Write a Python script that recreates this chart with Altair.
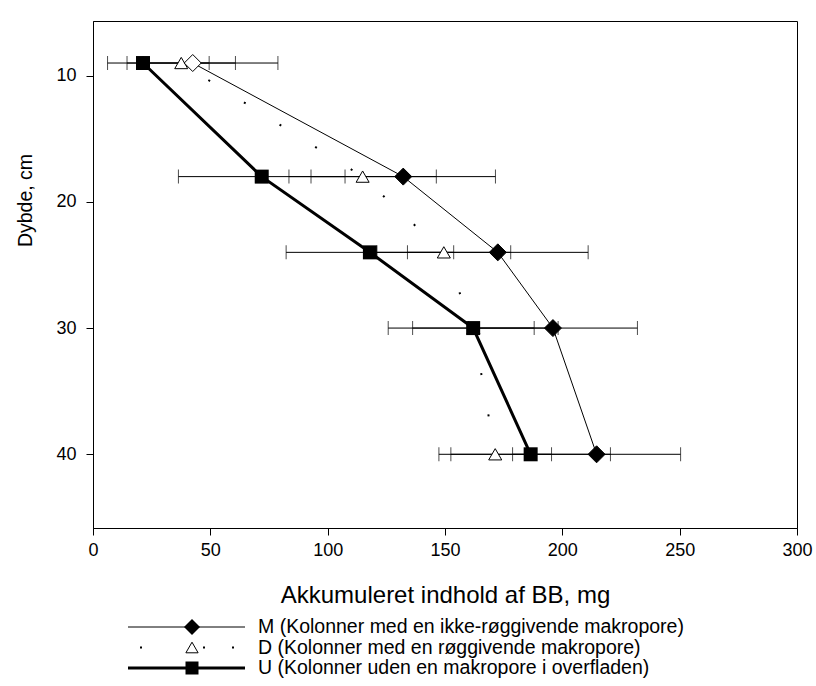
import altair as alt
import pandas as pd

# ---- data ----
depth = [9, 18, 24, 30, 40]

m_x = [42.5, 132.2, 172.5, 196.0, 214.6]
m_err = [36.3, 39.3, 38.5, 36.0, 35.8]

d_x = [37.6, 114.9, 149.5, 162.1, 171.4]
d_err = [23.1, 31.4, 28.5, 25.9, 24.0]

u_x = [21.3, 71.9, 118.0, 162.0, 186.5]
u_err_lo = [0.0, 35.5, 35.7, 36.2, 34.0]
u_err_hi = [28.2, 35.5, 35.7, 36.2, 34.0]

x_ticks = [0, 50, 100, 150, 200, 250, 300]
y_ticks = [10, 20, 30, 40]

series = ["M", "D", "U"]
labels = [
    "M (Kolonner med en ikke-røggivende makropore)",
    "D (Kolonner med en røggivende makropore)",
    "U (Kolonner uden en makropore i overfladen)",
]

rows = []
for s, xs_, lo_e, hi_e in [
    ("M", m_x, m_err, m_err),
    ("D", d_x, d_err, d_err),
    ("U", u_x, u_err_lo, u_err_hi),
]:
    for d, v, el, eh in zip(depth, xs_, lo_e, hi_e):
        rows.append({"series": s, "depth": d, "x": v, "lo": v - el, "hi": v + eh})
df = pd.DataFrame(rows)

leg = pd.DataFrame({"series": series, "label": labels})

W, H = 704, 507
FONT = "Liberation Sans"

xs = alt.Scale(domain=[0, 300], nice=False, zero=False)
ys = alt.Scale(domain=[5.67, 45.84], reverse=True, nice=False, zero=False)

x_axis = alt.Axis(
    values=x_ticks,
    title="Akkumuleret indhold af BB, mg",
    tickSize=7,
    labelPadding=6,
    labelFlush=False,
    titlePadding=24,
    titleFontSize=24,
    grid=False,
)
y_axis = alt.Axis(
    values=y_ticks,
    title="Dybde, cm",
    tickSize=7,
    labelPadding=10,
    labelFlush=False,
    titleFontSize=19.5,
    titleBaseline="middle",
    titleX=-68,
    titleY=179,
    grid=False,
)


def X(field):
    return alt.X(field, scale=xs, axis=x_axis, title="Akkumuleret indhold af BB, mg")


def Y():
    return alt.Y("depth:Q", scale=ys, axis=y_axis, title="Dybde, cm")


base = alt.Chart(df)

err_rule = base.mark_rule(color="black", strokeWidth=1).encode(x=X("lo:Q"), x2="hi:Q", y=Y())
tick_lo = base.mark_tick(orient="vertical", size=14, thickness=1, color="black").encode(
    x=X("lo:Q"), y=Y()
)
tick_hi = base.mark_tick(orient="vertical", size=14, thickness=1, color="black").encode(
    x=X("hi:Q"), y=Y()
)

line_m = base.transform_filter(alt.datum.series == "M").mark_line(
    color="black", strokeWidth=1
).encode(x=X("x:Q"), y=Y(), order="depth:Q")
line_d = base.transform_filter(alt.datum.series == "D").mark_line(
    color="black", strokeWidth=2, strokeDash=[2, 40], strokeDashOffset=10, strokeCap="butt"
).encode(x=X("x:Q"), y=Y(), order="depth:Q")
line_u = base.transform_filter(alt.datum.series == "U").mark_line(
    color="black", strokeWidth=3
).encode(x=X("x:Q"), y=Y(), order="depth:Q")

pt_d = base.transform_filter(alt.datum.series == "D").mark_point(
    shape="triangle-up", filled=True, fill="white", stroke="black",
    strokeWidth=1, size=170, opacity=1
).encode(x=X("x:Q"), y=Y())
pt_u = base.transform_filter(alt.datum.series == "U").mark_point(
    shape="square", filled=True, color="black", size=196, opacity=1
).encode(x=X("x:Q"), y=Y())
pt_m = base.transform_filter(alt.datum.series == "M").mark_point(
    shape="diamond", filled=True, stroke="black", strokeWidth=1, size=289, opacity=1
).encode(
    x=X("x:Q"), y=Y(),
    fill=alt.condition(alt.datum.depth == 9, alt.value("white"), alt.value("black")),
)

# ---- legend below the plot (pixel layout relative to the plot area) ----
LEG_ROW0, LEG_STEP = 606, 20.5
SYM_X0, SYM_X1, SYM_MID, TXT_X = 35, 152, 99, 165
line_style = {
    "M": dict(strokeWidth=1),
    "D": dict(strokeWidth=2, strokeDash=[2, 61, 2, 27, 2, 100], strokeDashOffset=182, strokeCap="butt"),
    "U": dict(strokeWidth=3),
}
pt_style = {
    "M": dict(shape="diamond", filled=True, color="black", size=256),
    "D": dict(shape="triangle-up", filled=True, fill="white", stroke="black", strokeWidth=1, size=150),
    "U": dict(shape="square", filled=True, color="black", size=169),
}
legend_layers = []
for i, s in enumerate(series):
    ly = alt.value(LEG_ROW0 + i * LEG_STEP)
    sub = alt.Chart(leg).transform_filter(alt.datum.series == s)
    legend_layers.append(
        sub.mark_rule(color="black", **line_style[s]).encode(
            x=alt.value(SYM_X0), x2=alt.value(SYM_X1), y=ly)
    )
    legend_layers.append(
        sub.mark_point(opacity=1, **pt_style[s]).encode(x=alt.value(SYM_MID), y=ly)
    )
    legend_layers.append(
        sub.mark_text(align="left", baseline="middle", fontSize=19.5, font=FONT, color="black").encode(
            x=alt.value(TXT_X), y=ly, text="label:N")
    )

chart = alt.layer(
    err_rule, tick_lo, tick_hi, line_m, line_d, line_u, pt_d, pt_u, pt_m, *legend_layers
).properties(
    width=W, height=H,
    background="white",
    autosize=alt.AutoSizeParams(type="none"),
    padding={"left": 93, "top": 21, "right": 19, "bottom": 158},
).configure_view(stroke="black", strokeWidth=1).configure_axis(
    labelFont=FONT, titleFont=FONT, labelFontSize=18,
    labelColor="black", titleColor="black", domainColor="black", tickColor="black",
    titleFontWeight="normal", domainWidth=1, tickWidth=1,
)

chart.save("out.html", embed_options={"renderer": "svg", "actions": False})
